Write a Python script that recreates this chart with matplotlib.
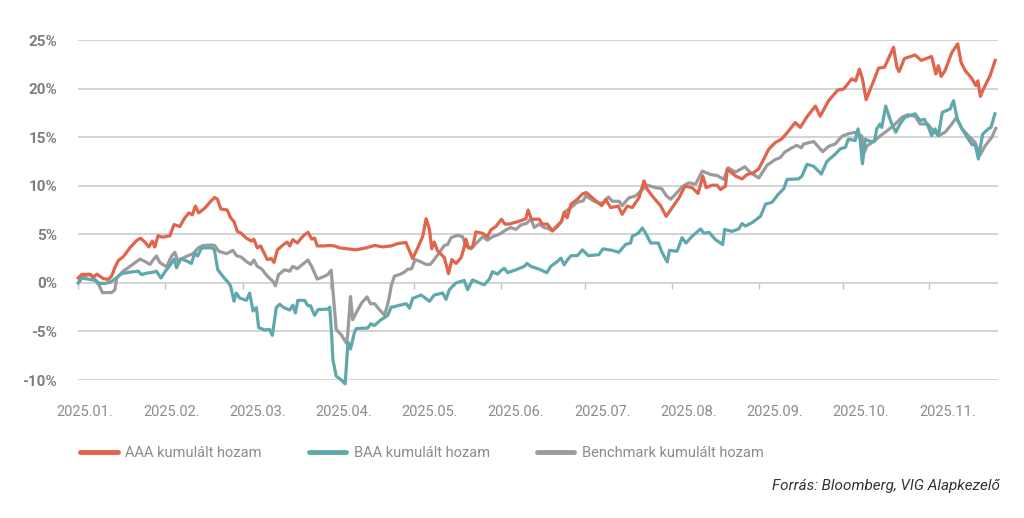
import numpy as np
import matplotlib
matplotlib.use('Agg')
import matplotlib.pyplot as plt
from matplotlib.lines import Line2D

plt.rcParams['font.family'] = ['Roboto', 'DejaVu Sans']

# ---- adatok: napok 2025.01.01-tol, kumulalt hozam (%) ----
aaa_days = [0.1, 1.3, 4.3, 5.5, 6.7, 9.0, 10.8, 12.0, 13.2, 14.4, 16.2, 18.5, 20.9, 22.3, 23.9,
            25.3, 26.5, 27.4, 28.6, 30.1, 32.8, 34.3, 36.4, 37.9, 39.6, 40.8, 41.9, 43.1, 45.3,
            47.4, 48.8, 49.8, 51.0, 53.3, 54.5, 55.7, 56.9, 58.3, 60.1, 61.9, 62.8, 64.0, 65.2,
            67.6, 69.0, 70.0, 71.2, 73.2, 74.7, 75.6, 76.7, 78.3, 80.3, 82.1, 83.5, 84.5, 85.4,
            88.0, 89.8, 91.6, 93.4, 96.3, 99.3, 102.9, 105.9, 108.8, 111.8, 114.2, 117.1, 119.5,
            121.3, 123.1, 124.3, 125.5, 126.3, 127.2, 128.4, 130.8, 132.3, 133.5, 135.0, 136.8,
            137.7, 138.5, 139.4, 140.9, 142.1, 144.5, 146.2, 147.4, 149.2, 151.2, 152.4, 154.0,
            155.7, 158.1, 159.9, 160.7, 161.9, 164.7, 165.8, 167.6, 169.4, 171.2, 172.6, 173.6,
            174.7, 176.0, 178.3, 180.1, 181.5, 184.3, 187.0, 188.4, 190.2, 192.9, 194.3, 196.1,
            197.9, 200.3, 202.1, 203.3, 205.6, 208.0, 210.0, 212.2, 214.6, 216.7, 219.3, 221.4,
            223.1, 224.3, 226.4, 228.2, 229.4, 231.2, 231.8, 234.8, 237.1, 238.9, 241.3, 243.1,
            244.8, 246.6, 249.0, 251.2, 253.2, 256.1, 257.9, 260.3, 263.3, 265.0, 268.0, 271.3,
            273.4, 276.3, 277.7, 279.0, 280.1, 281.4, 282.9, 284.4, 285.8, 288.0, 291.2, 292.4,
            293.2, 295.1, 298.9, 301.1, 304.8, 306.3, 307.2, 308.2, 309.6, 312.0, 314.1, 315.3,
            316.8, 319.1, 320.6, 321.3, 322.2, 323.3, 325.7, 327.5]
aaa_vals = [0.5, 0.86, 0.9, 0.6, 0.9, 0.45, 0.35, 0.7, 1.6, 2.3, 2.7, 3.6, 4.35, 4.6, 4.2,
            3.7, 4.3, 3.7, 4.85, 4.7, 4.85, 6.0, 5.8, 6.6, 7.2, 7.0, 7.9, 7.2, 7.7,
            8.4, 8.8, 8.6, 7.6, 7.5, 6.7, 6.3, 5.3, 5.1, 4.6, 4.3, 4.5, 3.6, 3.8,
            2.4, 2.5, 2.1, 3.4, 3.9, 4.2, 3.8, 4.45, 4.1, 4.8, 5.2, 4.5, 4.6, 3.8,
            3.8, 3.85, 3.8, 3.6, 3.5, 3.4, 3.6, 3.85, 3.7, 3.8, 4.05, 4.15, 2.5,
            3.6, 4.8, 6.6, 5.5, 3.5, 4.2, 3.3, 2.6, 0.95, 2.4, 2.0, 2.6,
            3.45, 4.5, 3.6, 3.7, 5.25, 5.1, 4.75, 5.45, 5.8, 6.55, 6.05, 6.05,
            6.2, 6.4, 6.6, 7.5, 6.55, 6.55, 6.05, 6.05, 5.35, 5.8, 6.3, 7.25,
            6.7, 8.1, 8.6, 9.15, 9.3, 8.6, 7.95, 8.6, 7.75, 7.9, 7.05, 7.9,
            7.75, 8.75, 10.5, 9.6, 8.75, 7.95, 6.85, 7.75, 8.75, 9.95, 9.8, 9.2,
            11.0, 9.8, 10.05, 10.05, 9.6, 9.95, 11.7, 11.0, 10.7, 11.15, 11.35, 11.75,
            12.7, 13.75, 14.45, 14.8, 15.45, 16.5, 16.0, 17.1, 18.2, 17.15, 18.75, 19.85,
            19.95, 21.0, 20.8, 22.0, 21.0, 18.85, 19.95, 21.0, 22.1, 22.2, 24.25, 22.2,
            21.75, 23.1, 23.45, 22.9, 23.3, 21.5, 22.35, 21.25, 21.85, 23.7, 24.6, 22.7,
            21.85, 21.05, 20.3, 20.8, 19.2, 19.95, 21.35, 22.9]

baa_days = [0.1, 1.3, 4.3, 6.1, 7.8, 9.6, 11.4, 13.2, 15.6, 18.5, 21.5, 22.7, 24.5, 26.9, 28.0,
            29.6, 31.2, 33.1, 34.3, 35.2, 36.7, 38.4, 40.5, 41.7, 42.7, 44.1, 47.8, 48.7, 49.9,
            52.2, 53.8, 54.5, 55.7, 56.5, 57.7, 60.1, 61.3, 62.5, 63.7, 64.5, 66.6, 68.4, 69.4,
            70.8, 72.0, 73.5, 75.6, 76.7, 77.6, 78.5, 80.9, 82.1, 83.0, 84.5, 85.7, 89.2, 89.9,
            90.6, 91.0, 92.2, 94.0, 95.4, 96.4, 97.3, 98.8, 99.4, 103.4, 104.6, 105.8, 108.2,
            110.6, 111.8, 113.0, 114.8, 117.2, 118.4, 119.5, 122.5, 123.7, 125.5, 127.2, 130.2,
            131.4, 132.6, 135.0, 136.8, 137.9, 139.1, 140.9, 143.3, 145.1, 146.9, 148.0, 149.8,
            151.0, 152.2, 153.4, 156.4, 159.4, 160.3, 161.7, 164.7, 167.4, 168.8, 171.2, 172.4,
            173.6, 174.7, 176.1, 178.3, 180.1, 182.2, 186.0, 187.4, 190.7, 193.1, 195.5, 197.3,
            197.9, 200.0, 201.5, 202.7, 204.5, 207.2, 208.6, 210.4, 211.2, 213.9, 215.7, 217.1,
            219.3, 222.3, 223.5, 225.3, 227.6, 230.2, 230.9, 233.5, 235.9, 237.1, 238.3, 240.7,
            243.7, 245.5, 247.8, 250.0, 252.0, 253.2, 257.3, 258.5, 260.3, 262.7, 265.4, 267.4,
            270.4, 272.2, 274.0, 275.1, 277.5, 278.5, 279.3, 280.1, 281.1, 282.9, 284.4, 285.2,
            286.4, 287.0, 288.4, 290.3, 292.0, 293.5, 295.3, 298.9, 300.7, 302.2, 303.7, 304.8,
            306.0, 307.2, 308.6, 311.4, 312.6, 314.1, 316.1, 317.9, 319.3, 320.3, 321.5, 323.0,
            325.0, 326.0, 327.4]
baa_vals = [0.0, 0.5, 0.35, 0.25, -0.05, -0.05, 0.05, 0.4, 0.95, 1.1, 1.2, 0.85, 1.0, 1.1, 1.2,
            0.5, 1.2, 1.9, 2.45, 1.55, 2.5, 2.3, 2.0, 3.1, 2.75, 3.6, 3.6, 3.4, 1.35,
            0.5, 0.0, -0.35, -1.9, -1.05, -1.55, -1.8, -1.05, -2.9, -2.55, -4.6, -4.85, -4.8, -5.4,
            -2.55, -2.2, -2.55, -2.8, -2.3, -3.1, -1.8, -1.8, -2.35, -2.35, -3.35, -2.75, -2.7, -2.5,
            -5.5, -7.9, -9.6, -10.0, -10.4, -6.1, -6.8, -5.0, -4.7, -4.65, -4.2, -4.4, -3.8,
            -3.35, -2.5, -2.45, -2.3, -2.15, -2.6, -1.6, -1.25, -1.5, -1.9, -1.25, -1.05,
            -1.7, -0.7, 0.0, 0.15, 0.25, -0.7, 0.3, 0.0, -0.2, 0.4, 1.15, 0.9,
            1.25, 1.5, 1.05, 1.35, 1.7, 2.0, 1.7, 1.4, 1.05, 1.7, 2.2, 2.55,
            1.85, 2.35, 2.8, 2.8, 3.4, 2.8, 2.9, 3.5, 3.35, 3.15, 3.95, 4.1,
            4.8, 5.1, 5.65, 5.1, 4.1, 4.1, 3.1, 2.15, 3.35, 3.25, 4.65, 4.1,
            4.8, 5.55, 5.1, 5.2, 4.45, 3.95, 5.5, 5.3, 5.55, 6.1, 5.85, 6.2,
            6.85, 8.1, 8.3, 9.1, 9.7, 10.65, 10.7, 11.0, 12.2, 12.0, 11.2, 12.5,
            13.25, 13.8, 13.95, 14.8, 14.65, 15.85, 14.65, 12.25, 14.8, 14.55, 14.55, 15.85,
            16.35, 16.0, 18.2, 16.55, 15.5, 16.35, 17.05, 17.4, 16.7, 16.85, 16.0, 15.15,
            15.85, 15.15, 17.55, 17.9, 18.75, 16.7, 15.65, 14.8, 14.2, 14.3, 12.75, 15.3,
            15.85, 16.0, 17.4]

bm_days = [0.1, 1.9, 4.3, 6.1, 7.8, 8.7, 12.0, 13.2, 13.8, 16.1, 19.1, 22.1, 23.9, 25.7, 26.8,
           28.0, 29.2, 31.6, 33.4, 34.6, 35.7, 37.5, 39.3, 41.1, 42.9, 44.7, 47.9, 48.8, 50.3,
           53.0, 55.3, 56.6, 58.3, 60.1, 61.7, 62.8, 64.0, 65.5, 67.6, 69.6, 70.5, 71.6, 73.8,
           75.6, 76.7, 78.3, 79.7, 82.1, 83.5, 85.4, 87.4, 89.2, 90.4, 91.0, 92.2, 94.0, 95.8,
           96.3, 97.3, 98.1, 99.3, 101.3, 103.2, 104.4, 105.9, 107.6, 109.4, 110.4, 111.2, 111.8,
           113.0, 114.8, 116.5, 117.7, 119.1, 120.4, 122.5, 124.3, 125.8, 127.2, 129.0, 130.8,
           132.0, 133.2, 135.5, 137.3, 138.5, 140.3, 142.1, 144.5, 146.2, 148.0, 150.4, 152.8,
           154.6, 156.4, 158.1, 160.3, 161.7, 162.9, 164.7, 166.4, 167.9, 169.4, 171.2, 172.6,
           173.8, 176.0, 178.3, 180.4, 181.3, 184.3, 186.0, 187.8, 189.4, 190.8, 193.2, 194.3,
           196.7, 199.1, 201.5, 203.3, 206.3, 208.4, 210.0, 211.6, 213.9, 215.7, 218.1, 220.5,
           222.9, 225.9, 228.2, 230.6, 232.1, 234.8, 238.1, 240.1, 243.1, 246.0, 249.0, 250.8,
           252.3, 254.9, 256.7, 258.3, 259.1, 262.7, 265.9, 268.0, 270.4, 272.8, 275.1, 277.5,
           279.9, 280.8, 281.7, 284.1, 286.5, 288.9, 291.8, 294.2, 296.3, 298.9, 300.7, 303.4,
           304.8, 307.2, 309.6, 312.0, 313.7, 315.5, 317.9, 320.3, 322.1, 323.9, 326.3, 327.7]
bm_vals = [0.0, 0.7, 0.85, 0.35, -0.4, -1.0, -1.0, -0.7, 0.5, 1.2, 1.8, 2.45, 2.2, 1.9, 2.35,
           2.75, 2.1, 1.65, 2.75, 3.15, 2.2, 2.55, 2.8, 3.0, 3.6, 3.85, 3.9, 3.85, 3.25,
           3.0, 3.35, 2.8, 2.65, 2.2, 1.9, 2.35, 1.7, 1.45, 0.7, 0.15, -0.3, 0.85, 1.35,
           1.2, 1.7, 1.45, 1.8, 2.35, 1.65, 0.4, 0.6, 0.85, 1.3, -0.7, -4.8, -5.35, -6.2,
           -5.35, -1.4, -3.8, -3.1, -2.05, -1.45, -2.15, -2.15, -2.75, -3.3, -2.4, -1.4, -0.35,
           0.7, 0.85, 1.1, 1.4, 1.45, 2.4, 2.15, 1.9, 1.9, 2.4, 3.1, 3.85,
           3.95, 4.65, 4.9, 4.75, 3.8, 3.5, 4.05, 4.75, 4.4, 4.75, 5.0, 5.45,
           5.7, 5.5, 5.95, 6.15, 6.6, 5.7, 6.05, 5.7, 5.6, 5.35, 5.95, 6.3,
           7.3, 7.75, 8.3, 8.45, 8.95, 8.4, 8.2, 8.25, 8.85, 8.4, 8.4, 7.95,
           8.75, 8.95, 9.6, 10.05, 9.8, 9.7, 9.0, 8.6, 9.3, 9.9, 10.3, 10.15,
           11.5, 11.15, 11.05, 10.65, 11.85, 11.4, 11.95, 11.35, 10.8, 12.1, 12.7, 12.9,
           13.45, 13.9, 14.15, 13.9, 14.3, 14.55, 13.5, 14.05, 14.3, 15.1, 15.35, 15.5,
           15.1, 13.45, 14.1, 14.55, 15.15, 15.65, 16.35, 17.05, 17.3, 17.15, 16.35, 16.35,
           15.85, 15.15, 15.5, 16.35, 17.05, 15.9, 15.15, 14.45, 13.15, 14.1, 15.0, 15.9]

month_labels = ['2025.01.', '2025.02.', '2025.03.', '2025.04.', '2025.05.', '2025.06.',
                '2025.07.', '2025.08.', '2025.09.', '2025.10.', '2025.11.']
series_names = ['AAA kumulált hozam', 'BAA kumulált hozam', 'Benchmark kumulált hozam']
colors = ['#E0654A', '#5FA8AC', '#9B9B9D']

# ---- rajz ----
fig = plt.figure(figsize=(10.24, 5.18), dpi=100)
ax = fig.add_axes([78 / 1024, 1 - 380 / 518, 920 / 1024, 340 / 518])

ax.plot(bm_days, bm_vals, color=colors[2], lw=2.3, solid_joinstyle='round', zorder=3, clip_on=False)
ax.plot(baa_days, baa_vals, color=colors[1], lw=2.3, solid_joinstyle='round', zorder=4, clip_on=False)
ax.plot(aaa_days, aaa_vals, color=colors[0], lw=2.3, solid_joinstyle='round', zorder=5, clip_on=False)

ax.set_xlim(0, 328.5)
ax.set_ylim(-10, 25)
ax.set_yticks(np.arange(-10, 26, 5))
ax.set_yticklabels([f'{v}%' for v in range(-10, 26, 5)])
ax.yaxis.grid(True, color='#D0D0D0', lw=1.3)
ax.set_axisbelow(True)
for s in ax.spines.values():
    s.set_visible(False)
ax.tick_params(axis='y', length=0, pad=15, labelsize=11, labelcolor='#7F7F7F')
for lbl in ax.get_yticklabels():
    lbl.set_fontweight('bold')

# honap-cimkek
label_pos = np.linspace(2.5, 310.4, len(month_labels))
ax.set_xticks(label_pos)
ax.set_xticklabels(month_labels)
ax.tick_params(axis='x', length=0, pad=18, labelsize=10.5, labelcolor='#8C8C8C')

# honap-kezdo osztasok a 0% vonalon
month_starts = (np.arange('2025-01', '2025-12', dtype='datetime64[M]').astype('datetime64[D]')
                - np.datetime64('2025-01-01')).astype(int)
sec = ax.secondary_xaxis(0, transform=ax.transData)
sec.set_xticks(month_starts)
sec.set_xticklabels([''] * len(month_starts))
sec.tick_params(length=4, width=1, color='#C4C4C4')
for s in sec.spines.values():
    s.set_visible(False)

# jelmagyarazat
handles = [Line2D([0], [0], color=c, lw=3.5, solid_capstyle='round') for c in colors]
leg = fig.legend(handles, series_names, loc='center left', bbox_to_anchor=(67 / 1024, 1 - 453 / 518),
                 ncol=3, frameon=False, fontsize=10.5, handlelength=2.6, handletextpad=0.5,
                 columnspacing=3.2)
for t in leg.get_texts():
    t.set_color('#8C8C8C')

fig.text(1000 / 1024, 1 - 486 / 518, 'Forrás: Bloomberg, VIG Alapkezelő', ha='right', va='center',
         fontsize=11, style='italic', color='#333333')

fig.savefig('out.png', dpi=100)
